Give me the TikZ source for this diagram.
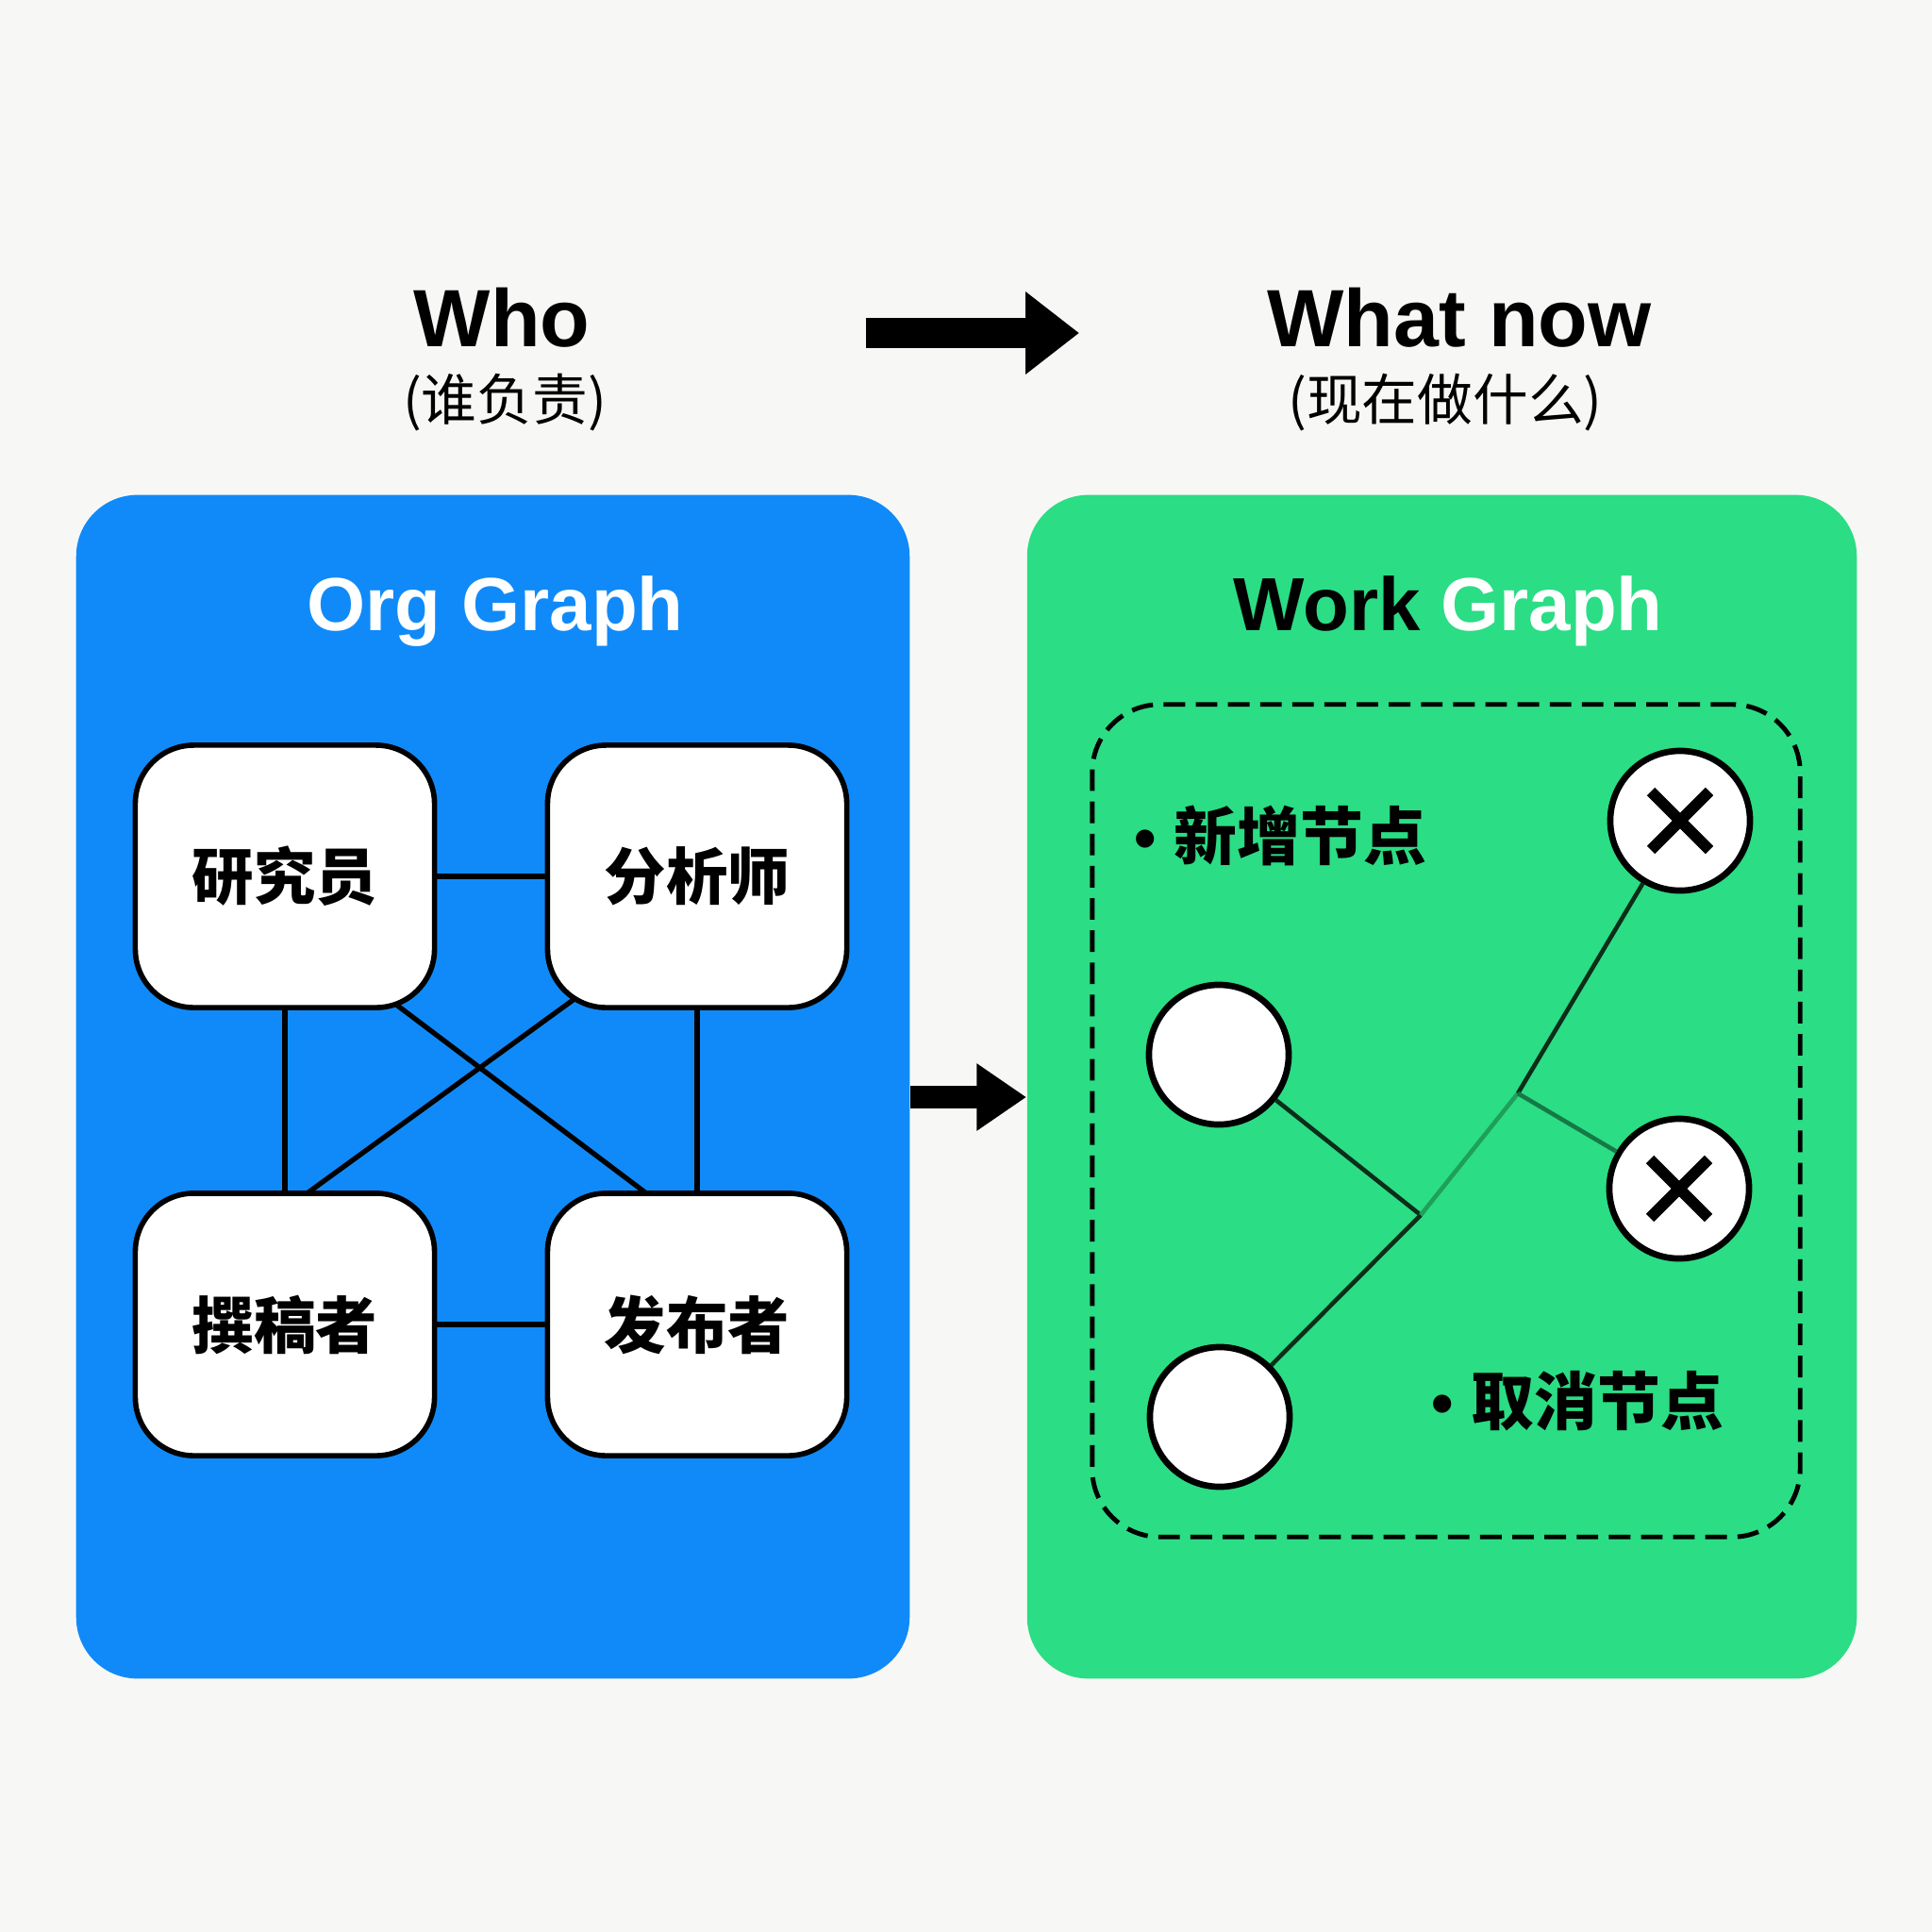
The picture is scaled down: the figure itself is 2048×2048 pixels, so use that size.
\documentclass[tikz,border=0pt]{standalone}
\usepackage{fontspec}
\setmainfont{Liberation Sans}
\newfontfamily\cjk{Noto Sans CJK SC}
\newfontfamily\lsans{Liberation Sans}
\usetikzlibrary{arrows.meta,calc}
\pgfdeclarelayer{panels}
\pgfdeclarelayer{edges}
\pgfsetlayers{panels,edges,main}
\definecolor{bgc}{RGB}{247,248,245}
\definecolor{bluep}{RGB}{16,138,249}
\definecolor{greenp}{RGB}{43,221,132}
\definecolor{darkln}{RGB}{12,45,25}
\definecolor{midln}{RGB}{22,120,70}
\definecolor{fadeln}{RGB}{30,160,90}
\tikzset{
  panel/.style={rounded corners=0.65cm, inner sep=0pt},
  orgbox/.style={draw, line width=1.6pt, fill=white, rounded corners=0.62cm,
    minimum width=3.17cm, minimum height=2.78cm, inner sep=0pt,
    font=\cjk\bfseries\fontsize{18.6}{20}\selectfont},
  orgedge/.style={line width=1.5pt, black},
  circ/.style={circle, draw, line width=1.9pt, fill=white, minimum size=1.48cm, inner sep=0pt},
  xmark/.style={line width=3.4pt},
  wedge/.style={line width=1.3pt},
  bigarrow/.style={line width=9.1pt, -{Triangle[length=16.2pt,width=23.9pt]}},
  midarrow/.style={line width=6.8pt, -{Triangle[length=15pt,width=19.3pt]}},
  entitle/.style={font=\bfseries\fontsize{24.5}{28}\selectfont, anchor=base, inner sep=0pt},
  zhsub/.style={font=\cjk\fontsize{16.7}{20}\selectfont, inner sep=0pt},
  ptitle/.style={font=\bfseries\fontsize{22.7}{26}\selectfont, anchor=base, inner sep=0pt},
  blabel/.style={anchor=west, inner sep=0pt, font=\cjk\bfseries\fontsize{19}{22}\selectfont},
  dashbox/.style={draw, line width=1.4pt, dash pattern=on 6.5pt off 3.2pt,
    rounded corners=0.72cm, inner sep=0pt}
}
\begin{document}
\begin{tikzpicture}[x=0.01cm,y=-0.01cm]
\useasboundingbox (0,0) rectangle (2048,2048);
\begin{pgfonlayer}{panels}
\fill[bgc] (0,0) rectangle (2048,2048);
\node[panel, fill=bluep, minimum width=8.83cm, minimum height=12.54cm] (blue) at (522.5,1152) {};
\node[panel, fill=greenp, minimum width=8.79cm, minimum height=12.54cm] (green) at (1528.5,1152) {};
\end{pgfonlayer}

% titles
\node[entitle] (who) at (532,367) {Who};
\node[zhsub] (whozh) at (535,427) {(谁负责)};
\node[entitle] (what) at (1547,367) {What now};
\node[zhsub] (whatzh) at (1532,427) {(现在做什么)};
\coordinate (tA) at (918,353);
\coordinate (tB) at (1144,353);
\draw[bigarrow] (tA) -- (tB);

% middle arrow
\draw[midarrow] ($(blue.east)+(0,11)$) -- ($(green.west)+(0,11)$);

% panel titles
\node[ptitle, text=white] (orgt) at (525,668) {Org Graph};
\node[ptitle] (workt) at (1535,668) {Work \textcolor{white}{Graph}};

% org boxes
\node[orgbox] (r1) at (302,929) {研究员};
\node[orgbox] (r2) at (739,929) {分析师};
\node[orgbox] (r3) at (302,1404) {撰稿者};
\node[orgbox] (r4) at (739,1404) {发布者};
\begin{pgfonlayer}{edges}
\draw[orgedge] (r1) -- (r2);
\draw[orgedge] (r3) -- (r4);
\draw[orgedge] (r1) -- (r3);
\draw[orgedge] (r2) -- (r4);
\draw[orgedge] ($(r1.south)+(110,-12)$) -- ($(r4.north)+(-47,8)$);
\draw[orgedge] ($(r2.south)+(-119,-20)$) -- ($(r3.north)+(15,9)$);
\end{pgfonlayer}

% work graph
\node[dashbox, minimum width=7.5cm, minimum height=8.82cm] (dbox) at (1533,1188) {};
\node[circ] (cA) at (1292,1118) {};
\node[circ] (cB) at (1293,1502) {};
\node[circ] (x1) at (1781,870) {};
\node[circ] (x2) at (1780,1260) {};
\draw[xmark] ($(x1)+(-31,-31)$) -- ($(x1)+(31,31)$);
\draw[xmark] ($(x1)+(-31,31)$) -- ($(x1)+(31,-31)$);
\draw[xmark] ($(x2)+(-31,-31)$) -- ($(x2)+(31,31)$);
\draw[xmark] ($(x2)+(-31,31)$) -- ($(x2)+(31,-31)$);
\coordinate (j1) at (1506,1288);
\coordinate (j2) at (1609,1159);
\draw[wedge, darkln] (cA) -- (j1);
\draw[wedge, darkln] (cB) -- (j1);
\draw[wedge, fadeln] (j1) -- (j2);
\draw[wedge, darkln] (j2) -- (x1);
\draw[wedge, midln] (j2) -- (x2);

\node[blabel] (lab1) at (1202,886) {{\lsans\bfseries •}\hspace{5.3pt}新增节点};
\node[blabel] (lab2) at (1517,1485) {{\lsans\bfseries •}\hspace{5.3pt}取消节点};
\end{tikzpicture}
\end{document}
